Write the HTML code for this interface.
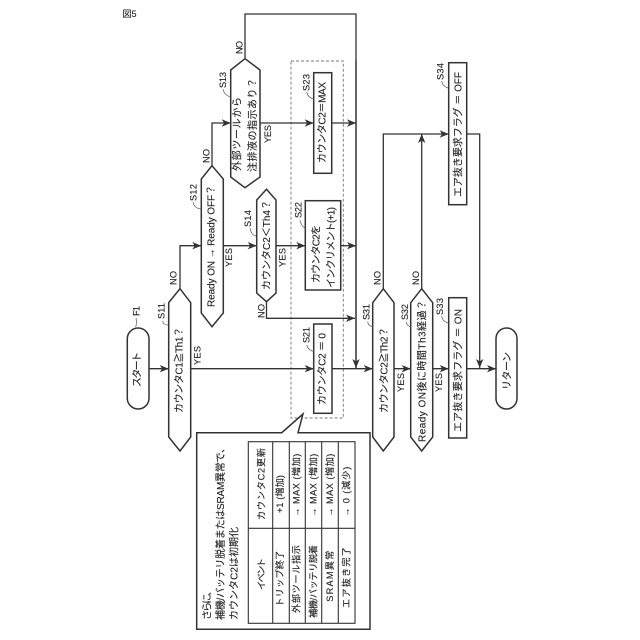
<!DOCTYPE html>
<html><head><meta charset="utf-8"><style>
html,body{margin:0;padding:0;background:#fff;width:640px;height:640px;overflow:hidden}
svg{display:block;filter:blur(.25px)}
text{font-family:"Liberation Sans","Noto Sans CJK JP",sans-serif;font-size:10px;fill:#222;stroke:#222;stroke-width:.12;dominant-baseline:central}
text.k{font-size:9.2px}
.s{fill:#fff;stroke:#333;stroke-width:1.5}
.a{fill:none;stroke:#333;stroke-width:1.3;marker-end:url(#m)}
.l{fill:none;stroke:#333;stroke-width:1.3}
.q{fill:none;stroke:#555;stroke-width:.7}
.g{fill:none;stroke:#333;stroke-width:1.1}
</style></head><body>
<svg width="640" height="640" viewBox="0 0 640 640" xmlns="http://www.w3.org/2000/svg">
<defs><marker id="m" markerUnits="userSpaceOnUse" markerWidth="11" markerHeight="9" refX="10" refY="4.5" orient="auto"><path d="M1,.8L10,4.5L1,8.2L3.4,4.5Z" fill="#333"/></marker></defs>
<rect width="640" height="640" fill="#fff"/>
<text x="122.5" y="14" style="font-size:9px">図5</text>

<rect x="291" y="61" width="52.3" height="357" fill="none" stroke="#777" stroke-width=".9" stroke-dasharray="3 2"/>

<!-- connectors -->
<path class="l" d="M245,59V14H356V368"/>
<path class="a" d="M356,60V368"/>
<path class="a" d="M260,123H313.7"/>
<path class="a" d="M331.7,123H356"/>
<path class="a" d="M212,166V123H230.7"/>
<path class="a" d="M180,289V245.7H201.3"/>
<path class="a" d="M223.3,245.7H256.7"/>
<path class="a" d="M276,245.7H305.3"/>
<path class="a" d="M340.7,245.7H356"/>
<path class="a" d="M266.5,301V318.3H355"/>
<path class="a" d="M190.7,368.7H313.7"/>
<path class="a" d="M149,368.7H168.7"/>
<path class="a" d="M332,368.7H372.7"/>
<path class="a" d="M394,368.7H410.7"/>
<path class="a" d="M432.7,368.7H448.7"/>
<path class="a" d="M466.7,368.7H496"/>
<path class="a" d="M383.3,289V134H448.7"/>
<path class="a" d="M421.7,289V134"/>
<path class="a" d="M466.7,134H479.7V368"/>

<!-- shapes -->
<path class="s" d="M245,58.7L260,70V177L245,187.7L230.7,177V70Z"/>
<path class="s" d="M212,165.7L223.3,179V313L212,326.7L201.3,313V179Z"/>
<path class="s" d="M266.5,189.3L276,200V293L266.5,301.7L256.7,293V200Z"/>
<path class="s" d="M180,288.7L190.7,302.7V437L180,451L168.7,437V302.7Z"/>
<path class="s" d="M383.3,288.7L394,302.7V437L383.3,451L372.7,437V302.7Z"/>
<path class="s" d="M421.7,288.7L432.7,302.7V437L421.7,451L410.7,437V302.7Z"/>
<rect class="s" x="313.7" y="72.7" width="18" height="100.6"/>
<rect class="s" x="305.3" y="200.7" width="35.4" height="89.3"/>
<rect class="s" x="313.7" y="324" width="18.3" height="89.3"/>
<rect class="s" x="448.7" y="297.7" width="18" height="140.3"/>
<rect class="s" x="448.7" y="62.7" width="18" height="142"/>
<rect class="s" x="127.3" y="328" width="21.7" height="81" rx="10.8"/>
<rect class="s" x="496" y="328" width="21" height="81" rx="10.5"/>

<!-- leaders -->
<path class="q" d="M230,96.7Q224,95 223,89"/>
<path class="q" d="M314,99Q308,98 306.7,92"/>
<path class="q" d="M200.7,209Q194,208 193,202"/>
<path class="q" d="M256,236Q251,235 250,228"/>
<path class="q" d="M305,228Q301,226 300,220"/>
<path class="q" d="M314,351.7Q308,350 306.7,345"/>
<path class="q" d="M135.7,327Q137,323 136,318"/>
<path class="q" d="M168,325Q163,325 162.7,321"/>
<path class="q" d="M373,326.7Q368,326 367.7,321.7"/>
<path class="q" d="M410.7,326.7Q407,326 406,321.7"/>
<path class="q" d="M448,323Q442,321 441.7,316"/>
<path class="q" d="M448,88Q442,86 441.7,81"/>

<!-- callout -->
<path class="s" d="M196.7,432.7H281.7L303,414L298,432.7H370V629.3H196.7Z"/>
<rect class="g" x="248.3" y="441.7" width="106.7" height="181.6"/>
<path class="g" d="M248.3,528.3H355M272.7,441.7V623.3M289.3,441.7V623.3M305.3,441.7V623.3M321.7,441.7V623.3M338.3,441.7V623.3"/>

<!-- labels -->
<text class="k" transform="translate(223,88) rotate(-90)" textLength="16">S13</text>
<text class="k" transform="translate(239.7,54) rotate(-90)" textLength="13">NO</text>
<text transform="translate(238,171) rotate(-90)" textLength="74">外部ツールから</text>
<text transform="translate(253.3,172) rotate(-90)" textLength="94">注排液の指示あり？</text>
<text class="k" transform="translate(268,143) rotate(-90)" textLength="18">YES</text>
<text class="k" transform="translate(306.7,91) rotate(-90)" textLength="17">S23</text>
<text transform="translate(323,163) rotate(-90)" textLength="81">カウンタC2＝MAX</text>
<text class="k" transform="translate(193.3,201) rotate(-90)" textLength="17">S12</text>
<text class="k" transform="translate(206.7,163) rotate(-90)" textLength="14">NO</text>
<text transform="translate(212,307) rotate(-90)" textLength="122">Ready ON → Ready OFF？</text>
<text class="k" transform="translate(229,267) rotate(-90)" textLength="19">YES</text>
<text class="k" transform="translate(248,227) rotate(-90)" textLength="17">S14</text>
<text transform="translate(267.5,290) rotate(-90)" textLength="90">カウンタC2＜Th4？</text>
<text class="k" transform="translate(282.7,267) rotate(-90)" textLength="19">YES</text>
<text class="k" transform="translate(261.7,318) rotate(-90)" textLength="14">NO</text>
<text class="k" transform="translate(298.3,218) rotate(-90)" textLength="16">S22</text>
<text transform="translate(317,283) rotate(-90)" textLength="58">カウンタC2を</text>
<text transform="translate(332,288) rotate(-90)" textLength="81">インクリメント(+1)</text>
<text class="k" transform="translate(306.7,343) rotate(-90)" textLength="16">S21</text>
<text transform="translate(323,405) rotate(-90)" textLength="72">カウンタC2 ＝ 0</text>
<text class="k" transform="translate(136.7,316) rotate(-90)" textLength="10">F1</text>
<text transform="translate(138,387) rotate(-90)" textLength="35">スタート</text>
<text class="k" transform="translate(161.7,319) rotate(-90)" textLength="16">S11</text>
<text class="k" transform="translate(173.3,285) rotate(-90)" textLength="14">NO</text>
<text transform="translate(180,413) rotate(-90)" textLength="86">カウンタC1≧Th1？</text>
<text class="k" transform="translate(197.3,365) rotate(-90)" textLength="19">YES</text>
<text class="k" transform="translate(366.7,320) rotate(-90)" textLength="16">S31</text>
<text class="k" transform="translate(377.7,285) rotate(-90)" textLength="14">NO</text>
<text transform="translate(385,413) rotate(-90)" textLength="86">カウンタC2≧Th2？</text>
<text class="k" transform="translate(401,392) rotate(-90)" textLength="19">YES</text>
<text class="k" transform="translate(405,320) rotate(-90)" textLength="16">S32</text>
<text class="k" transform="translate(416,285) rotate(-90)" textLength="14">NO</text>
<text transform="translate(423,442) rotate(-90)" textLength="142">Ready ON後に時間Th3経過？</text>
<text class="k" transform="translate(439,392) rotate(-90)" textLength="19">YES</text>
<text class="k" transform="translate(440,315) rotate(-90)" textLength="17">S33</text>
<text transform="translate(459,432) rotate(-90)" textLength="123">エア抜き要求フラグ ＝ ON</text>
<text class="k" transform="translate(440.7,80) rotate(-90)" textLength="17">S34</text>
<text transform="translate(459,197) rotate(-90)" textLength="125">エア抜き要求フラグ ＝ OFF</text>
<text transform="translate(508,390) rotate(-90)" textLength="38">リターン</text>

<text transform="translate(208,620) rotate(-90)" textLength="34">さらに、</text>
<text transform="translate(221.7,620) rotate(-90)" textLength="177">補機/バッテリ脱着またはSRAM異常で、</text>
<text transform="translate(235,620) rotate(-90)" textLength="93">カウンタC2は初期化</text>
<text class="k" transform="translate(261.7,590) rotate(-90)" textLength="32">イベント</text>
<text class="k" transform="translate(261.7,520) rotate(-90)" textLength="72">カウンタC2更新</text>
<text class="k" transform="translate(280,606.7) rotate(-90)" textLength="56">トリップ終了</text>
<text class="k" transform="translate(296.7,613) rotate(-90)" textLength="68">外部ツール指示</text>
<text class="k" transform="translate(313.3,618) rotate(-90)" textLength="73">補機/バッテリ脱着</text>
<text class="k" transform="translate(330,601.7) rotate(-90)" textLength="51">SRAM異常</text>
<text class="k" transform="translate(346.7,608) rotate(-90)" textLength="61">エア抜き完了</text>
<text class="k" transform="translate(280,513) rotate(-90)" textLength="38">+1 (増加)</text>
<text class="k" transform="translate(296.7,516.7) rotate(-90)" textLength="63">→ MAX (増加)</text>
<text class="k" transform="translate(313.3,516.7) rotate(-90)" textLength="63">→ MAX (増加)</text>
<text class="k" transform="translate(330,516.7) rotate(-90)" textLength="63">→ MAX (増加)</text>
<text class="k" transform="translate(346.7,516.7) rotate(-90)" textLength="50">→ 0 (減少)</text>
</svg>
</body></html>
